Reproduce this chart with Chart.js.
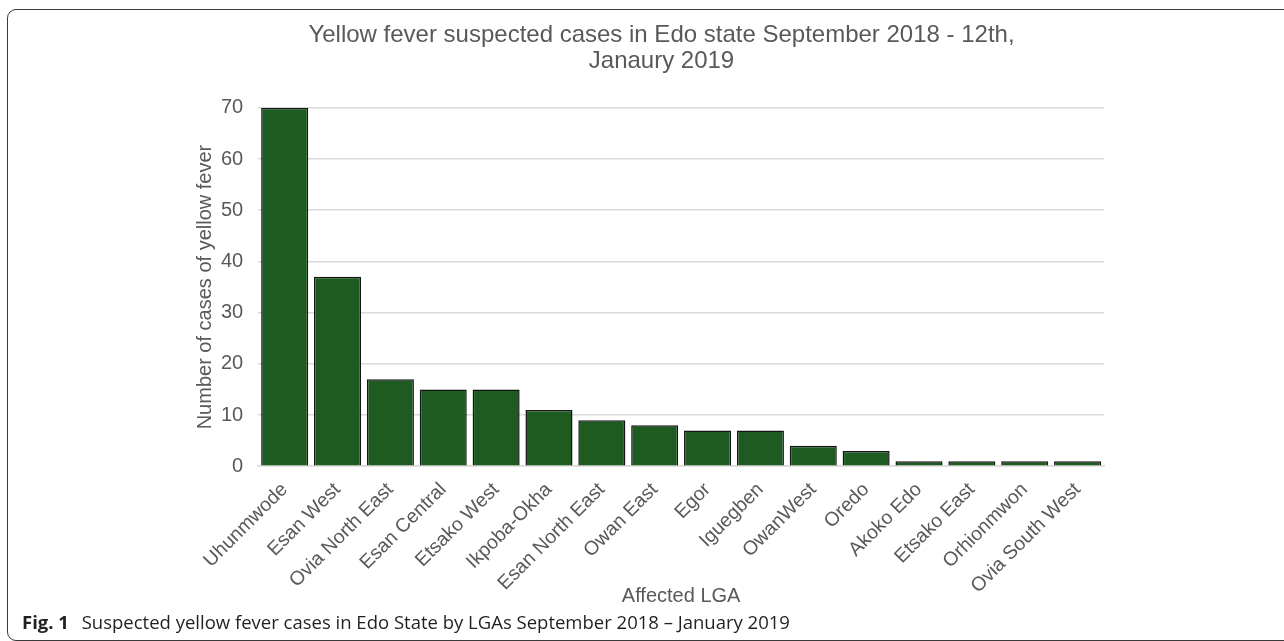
<!DOCTYPE html>
<html>
<head>
<meta charset="utf-8">
<script src="https://cdn.jsdelivr.net/npm/chart.js@4.4.1/dist/chart.umd.min.js"></script>
<style>
  html, body { margin: 0; padding: 0; background: #fff; }
  body { width: 1284px; height: 641px; position: relative; overflow: hidden; }
  .frame {
    position: absolute; left: 7px; top: 9px; width: 1320px; height: 630px;
    border: 1px solid #3a3a3a; border-radius: 9px;
  }
  .wrap { position: absolute; left: 0; top: 0; width: 1284px; height: 615px; }
  .caption {
    position: absolute; left: 22px; top: 609px; white-space: nowrap;
    font-family: "Open Sans", "Noto Sans", sans-serif; font-size: 18.5px; color: #231f20;
  }
  .caption b { font-weight: 700; margin-right: 8px; }
</style>
</head>
<body>
<div class="frame"></div>
<div class="wrap"><canvas id="lgaChart"></canvas></div>
<div class="caption"><b>Fig. 1</b> Suspected yellow fever cases in Edo State by LGAs September 2018 – January 2019</div>
<script>
// data
const lgas = [
    "Uhunmwode", "Esan West", "Ovia North East", "Esan Central", "Etsako West",
    "Ikpoba-Okha", "Esan North East", "Owan East", "Egor", "Iguegben",
    "OwanWest", "Oredo", "Akoko Edo", "Etsako East", "Orhionmwon", "Ovia South West",
];
const suspectedCases = [70, 37, 17, 15, 15, 11, 9, 8, 7, 7, 4, 3, 1, 1, 1, 1];
const yMax = 70;
const yStep = 10;

const titleLines = ["Yellow fever suspected cases in Edo state September 2018 - 12th,", "Janaury 2019"];
const textGrey = "#595959";
const font = "'Liberation Sans', Arial, sans-serif";

new Chart(document.getElementById("lgaChart"), {
    type: "bar",
    data: {
        labels: lgas,
        datasets: [
            {
                label: "Suspected cases",
                data: suspectedCases,
                backgroundColor: "#1e5b20",
                borderColor: "#151515",
                borderWidth: 1.5,
                barPercentage: 0.89,
                categoryPercentage: 1,
            },
        ],
    },
    options: {
        responsive: true,
        maintainAspectRatio: false,
        animation: false,
        // big left padding so the title centres like the original; y title pulled left of its box
        layout: { padding: { left: 219, right: 180, top: 0, bottom: 3 } },
        plugins: {
            legend: { display: false },
            tooltip: { enabled: false },
            title: {
                display: true,
                text: titleLines,
                color: textGrey,
                font: { family: font, size: 24, weight: "normal", lineHeight: 1.08 },
                padding: { top: 22, bottom: 34 },
            },
        },
        scales: {
            x: {
                grid: { display: false, drawTicks: false },
                border: { color: "#d9d9d9", width: 1.5 },
                ticks: {
                    color: textGrey,
                    font: { family: font, size: 19.5 },
                    minRotation: 45,
                    maxRotation: 45,
                    autoSkip: false,
                    padding: 12,
                },
                title: {
                    display: true,
                    text: "Affected LGA",
                    color: textGrey,
                    font: { family: font, size: 20 },
                    padding: { top: -26, bottom: 4 },
                },
            },
            y: {
                min: 0,
                max: yMax,
                border: { display: false },
                grid: { color: "#d9d9d9", lineWidth: 1.5, drawTicks: false },
                ticks: {
                    stepSize: yStep,
                    color: textGrey,
                    font: { family: font, size: 20 },
                    padding: 15,
                },
                title: {
                    display: true,
                    text: "Number of cases of yellow fever",
                    color: textGrey,
                    font: { family: font, size: 20 },
                    padding: { top: -26, bottom: -11 },
                },
            },
        },
    },
});
</script>
</body>
</html>
